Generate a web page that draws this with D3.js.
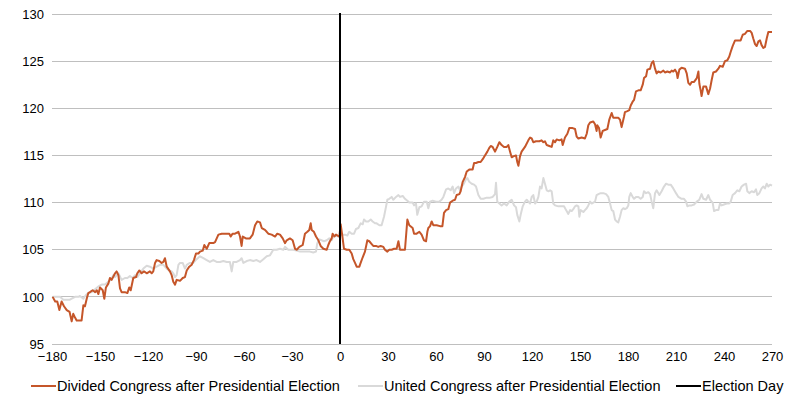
<!DOCTYPE html>
<html>
<head>
<meta charset="utf-8">
<script src="https://cdn.jsdelivr.net/npm/d3@7"></script>
<style>
  html, body { margin: 0; padding: 0; background: #fff; }
  svg { display: block; }
  text { font-family: "Liberation Sans", Arial, sans-serif; font-size: 13px; fill: #000; }
</style>
</head>
<body>
<svg id="chart" width="799" height="394"></svg>
<script>
// ---------- data ----------
const xTicks = [-180, -150, -120, -90, -60, -30, 0, 30, 60, 90, 120, 150, 180, 210, 240, 270];
const yTicks = [95, 100, 105, 110, 115, 120, 125, 130];
const electionDay = 0;

const dividedDays = [
  -179.6,-178,-176.7,-175.4,-174,-172.5,-170.8,-169,-167.7,-166.7,-165.6,-164.6,-161.5,-160.4,-159.4,-158.3,-157.3,-156.3,-154.6,-153,-152,-151,-150,-148.3,-147.3,-146.3,-144.8,-143.8,-142.7,-140.6,-139.6,-138.5,-137.5,-136.5,-134.4,-132.9,-131.7,-130.8,-129.2,-127.5,-126.7,-125.4,-124,-122.5,-120.8,-118.8,-117.7,-116.7,-115.6,-114.6,-112.9,-111.5,-110.4,-109.4,-108.3,-106.3,
  -105.2,-104.2,-103.1,-102.1,-100,-98.3,-96.9,-95.8,-94.2,-92.7,-91.3,-90,-88.5,-87.5,-85.8,-84.8,-83.3,-81.7,-79.2,-78.1,-76,-73.9,-70.8,-69.2,-68.3,-67.1,-65.6,-63.5,-62.5,-61.5,-60.8,-58.8,-56.3,-54.6,-53.1,-51.7,-50,-48.9,-46.9,-45.8,-44.8,-42.7,-40.6,-39.2,-37.5,-35.8,-34.4,-33.3,-31.3,
  -29.6,-28.1,-27.1,-25.4,-23.3,-21.9,-20.4,-19.2,-18.3,-17.7,-16.3,-15,-13.5,-12.1,-10.4,-8.3,-7.3,-6.3,-5.2,-4.6,-3.5,-2.5,-1.5,-0.4,0.4,1.5,2.5,4.2,5.8,7.3,8.3,9.4,10.4,12.1,12.9,14.2,15.6,17.1,18.3,19.8,20.8,22.5,23.9,25.4,27.1,28.1,29.6,30.8,32.3,33.8,35.4,36.5,37.5,39.6,40.6,42.1,43.3,
  45.4,46.3,47.9,49.6,51,52.5,53.8,54.6,55.2,56.3,57.3,58.3,60.4,62.5,64,65,66.3,67.7,68.8,70.4,71.9,72.9,74.6,75.4,76.7,78.1,79.2,80.8,82.9,83.8,85,86.5,87.9,89.2,90.6,92.1,93.3,94.2,95.4,96.9,98.3,99.6,101,102.5,104.2,105.2,106.3,107.3,108.3,110,110.8,111.5,112.5,113.5,115.6,117.7,
  118.8,119.8,120.8,122.5,124.6,126,127.1,128.1,129.2,130.8,132.3,133.3,134.4,135.4,137.1,138.5,139.2,140.6,142.1,143.3,145.4,146.9,147.9,149,151,153.1,154.2,155.2,156.3,158.3,159.4,160.4,160.8,161.9,162.9,164.2,165.6,167.1,168.3,169.8,170.8,172.5,173.9,175,176,177.5,178.1,179.6,180.8,181.7,182.9,183.8,185,186.5,187.9,189.2,190,191.3,192.1,193.8,
  194.8,195.8,196.9,197.9,198.9,200.4,202.1,203.1,204.6,206.3,207.3,208.3,209.4,210.4,211,212.1,213.5,215.6,216.7,217.7,218.8,219.8,221.3,223,224,224.6,225.4,226,227.1,228.8,230.2,231.3,232.3,233.3,235,236.5,237.5,239.2,240.6,242.1,243.3,244.2,245.4,246.9,249,250.4,251.7,253.1,254.6,256.3,257.3,258.3,259.4,260.4,261.5,262.5,263.5,264.6,265.6,266.7,267.7,269.2,270
];
const dividedValues = [
  100,99.5,99.5,98.6,99.5,99,98.6,98.4,97.4,98.2,97.8,97.5,97.5,99.1,99,99.8,100.4,100.5,100.7,100.5,100.7,100.3,101,100.7,99.8,101,101.4,102,101.8,102.5,102.7,102.3,100.9,100.5,100.5,100.4,101,100.7,102,102.1,102.5,102.8,102.5,102.7,102.5,102.7,102.5,102.7,103.6,103.9,103.8,103.6,103.7,104.1,103.2,102.7,
  102.3,101.6,101.3,101.8,101.7,102,102.1,102.8,103.2,103.4,103.9,104.6,104.6,104.8,104.9,105.5,105.1,105.7,105.7,105.8,106.6,106.7,106.7,106.7,106.4,106.7,106.7,106.9,106.4,105.4,106.4,106.2,106.2,106.6,107.6,108,107.9,107.3,107.1,106.9,106.7,106.6,106.4,106.7,106.6,106.2,105.7,106,106.2,
  106,105.1,105,105.3,105.5,106.7,106.9,107.1,107.8,107.1,106.9,106.4,106,105.4,105.1,105,105.5,105.9,106.2,106.7,106.4,106.6,106.5,106.4,107.7,106.4,105.1,105,105,104.6,104,103.6,103.2,103.2,103.6,104.2,104.8,106,105.9,105.6,105.4,105.4,105.3,105.4,105.3,105,104.8,105,105,105.1,105.1,105.9,105,105,105,108.2,107.6,
  107.3,106.7,106.7,106.9,106.6,106,105.9,106.9,107.3,107.5,108,107.6,107.6,107.5,107.5,108.9,109.2,109.3,110,110.2,110.3,110.8,110.9,111.2,112.2,112.7,113.3,113.5,113.5,114.2,114.2,114.3,114.3,114.6,115,115.4,115.8,116,115.9,115.4,115.9,116.4,116.1,115.9,115.9,116.1,115.4,114.8,114.9,115,114.3,113.9,114.9,115.4,115.9,116.6,
  116.9,116.8,116.4,116.5,116.5,116.6,116.4,116.5,116.1,116,115.9,116.6,116.4,116.7,116.6,116.7,116.1,116.9,117.3,117.9,117.9,117.8,117,116.8,116.9,116.8,117.3,118.2,118.5,118.6,118.3,117.6,118.2,117.9,116.9,117.6,117.7,117.8,118.8,119.5,119,119,119,118.8,118,119.1,119.6,119.7,119.8,120.3,120.7,120.9,121.8,121.9,121.9,122.5,123.2,123.4,124.1,124.2,
  124.8,125,124.2,123.7,123.9,123.8,124,123.8,123.9,123.8,124,123.9,124.1,123.8,123.2,124.1,124.3,124.2,123.7,122.7,122.5,122.8,122.8,123.2,123.9,122.6,121.9,121.3,122.3,122.3,121.5,122.1,123,123.8,123.9,124.2,124.5,124.4,125,125.1,125.5,126,126.6,127.2,127.2,127.2,127.8,127.9,128.2,128.2,128,127.4,126.8,126.6,127.1,127.2,126.7,126.4,126.5,127.4,128.1,128.1,128.1
];

const unitedDays = [
  -179.6,-177,-175,-172.9,-170.8,-168.8,-167.7,-165.6,-163.5,-162.5,-160.4,-158.8,-157.3,-155.2,-153.1,-151,-148.9,-146.9,-144.8,-143.3,-141.7,-140.6,-138.5,-136.5,-134.4,-132.9,-131.3,-129.6,-128.1,-126.7,-125,-122.9,-120.8,-118.8,-116.7,-114.6,-112.5,-110.4,-108.3,-106.7,
  -105.2,-104.2,-103.1,-102.1,-101,-100,-98.3,-96.9,-95.8,-93.8,-91.7,-89.6,-87.5,-85.4,-83.3,-81.3,-79.2,-77.1,-75,-72.9,-70.8,-68.8,-67.7,-66.7,-64.6,-62.5,-61.5,-60.4,-58.3,-56.3,-54.2,-52.1,-50,-47.9,-45.8,-43.8,-41.7,-39.6,-37.5,-35.4,-34.4,-32.3,
  -31.3,-29.2,-27.1,-25,-22.9,-20.8,-18.8,-16.7,-15,-14.2,-12.9,-11.5,-10,-8.3,-6.7,-5.2,-4.2,-2.5,-1,0,1.7,3.1,4.6,5.8,7.3,8.8,10,11.5,12.9,14.2,15,16.3,17.7,19.2,20.4,21.9,22.9,24.6,26,27.5,28.8,29.6,30.8,32.3,33.3,35,36.5,37.5,39.2,40.6,42.1,43.3,
  45.4,46.3,47.5,48.3,49.6,51,52.5,54.2,55.2,56.3,57.9,60,62.1,63.5,64.6,66.3,67.7,69.2,70.4,71.3,72.5,74,75,76,77.1,78.8,79.6,80.8,82.3,83.8,85,86.5,87.9,89.6,91.3,93.3,95.4,96.9,97.5,98.3,99.6,101,102.5,104.2,105.8,107.3,108.8,110,110.8,112.1,112.9,114.2,115.6,116.7,117.7,118.8,
  119.8,120.8,121.9,122.9,124,125,126,127.1,128.1,129.2,130.2,131.3,132.3,133.3,134.4,136.5,138.5,140,141.3,142.7,143.8,144.8,145.8,146.9,147.9,149,149.6,150.4,152.1,153.1,154.2,155.2,156.3,157.3,158.3,159.4,160.4,161.5,162.9,164.6,166.3,167.7,168.8,169.8,170.8,171.9,172.9,173.9,175,176,177.1,178.1,179.2,180.2,180.8,181.7,182.9,183.8,185,186.5,187.9,189.2,190,191.3,192.7,193.8,
  194.8,195.8,196.9,197.9,199.6,201,202.5,203.8,205.2,206.7,208.3,210,211.5,213.5,215,216.3,217.1,218.3,219.8,221.3,223,224.6,226,227.1,228.8,230.2,231.3,232.9,233.8,235,236.5,237.5,238.5,240,241.7,243.3,244.2,245.4,246.9,248.3,249.6,251,252.5,253.8,254.6,255.8,257.3,258.8,260,260.8,262.1,263.5,264.6,265.6,266.7,267.7,268.8,270
];
const unitedValues = [
  100,100,100,99.7,99.7,99.7,99.8,100,100,100.1,99.8,100.2,100.4,100.5,100.8,101.1,101.3,101.3,101.6,101.8,102.3,102.1,102.5,101.8,102,102,102.2,102,102.3,102.1,102.5,103,103.3,103.2,103,103.2,103.4,103.4,103,102.8,
  102.7,102.5,102.1,102.3,103.4,103.6,103.6,103,103.4,103.6,103.6,104,104.3,104.1,103.9,103.7,103.9,103.7,103.7,103.8,103.7,103.7,102.7,103.7,103.7,103.9,104.1,103.6,103.8,103.9,103.8,103.9,103.7,104,104.3,104.4,105,105,105.1,105,105.3,105,
  105,105,104.9,104.8,104.8,104.8,104.8,104.7,104.8,105.7,106.1,106,105.9,106,106.2,106,106.4,106.5,106.4,106.5,106.6,106.6,106.5,106.9,106.7,106.7,107.2,107.3,107.8,107.7,108.2,108,108,108.2,108,107.8,107.8,107.6,107.6,108.5,109.6,110.3,110.4,110.6,110.3,110.6,110.8,110.6,110.7,110.4,110.2,110,
  110,109.7,109.9,108.7,109.5,109.6,110.1,110.1,109.4,110.1,110.2,110.1,110.1,110.3,110.6,111.4,111.5,111.3,111.7,111,111.5,111.7,111.3,111.7,111.9,112.5,112.6,112.2,112,111.9,111.7,110.8,110.4,110.4,110.5,110.5,110.6,110.9,112.1,110.1,109.9,109.7,109.9,109.7,110.1,110.3,109.7,109.5,108.7,108,108.7,109.6,110.1,110.3,110.1,109.9,
  110.6,110.8,109.9,110.1,110.6,111.7,111.5,112.6,112,111.3,111.2,111.3,111.2,109.9,109.7,109.6,109.6,109.6,109.2,108.8,109.2,109.1,109.3,109.6,109.7,109.6,108.5,109.2,109,109.2,109.4,109.7,110.1,109.9,110,110.1,110.8,110.9,111,111,110.9,110.6,109.9,109.2,109.1,108.2,108,107.9,108.5,109.2,109.4,109.3,109.4,109.7,110.6,111,110.6,110.4,110.6,110.6,110.4,110.6,111.2,111,111.1,110.9,
  110.1,109.4,111,111.3,110.8,111.2,111.7,112,111.9,111.9,111.5,111,110.6,110.4,110.4,110.1,109.6,109.7,109.7,109.8,110.1,110.3,110.9,110.4,110.3,110.8,110.3,110,109.1,109.2,109.2,109.9,109.7,109.8,109.9,109.9,110.1,110.8,111,111.3,111.2,111.7,111.9,112,111.2,111,111.2,111.1,111.4,110.8,111,111.5,111.7,111.5,112,111.7,111.9,111.8
];

const seriesNames = ["Divided Congress after Presidential Election", "United Congress after Presidential Election", "Election Day"];
const seriesColors = ["#C5562A", "#D9D9D9", "#000000"];

// ---------- chart ----------
const svg = d3.select("#chart");
const margin = { left: 52, right: 27, top: 14, bottom: 50 };
const W = 799, H = 394;
const x = d3.scaleLinear().domain([-180, 270]).range([margin.left, W - margin.right]);
const y = d3.scaleLinear().domain([95, 130]).range([H - margin.bottom, margin.top]);

// gridlines
svg.append("g")
  .selectAll("line")
  .data(yTicks)
  .join("line")
  .attr("x1", x(-180)).attr("x2", x(270))
  .attr("y1", d => y(d)).attr("y2", d => y(d))
  .attr("stroke", "#BFBFBF").attr("stroke-width", 1)
  .attr("shape-rendering", "crispEdges");

// y axis labels
const yAxis = d3.axisLeft(y).tickValues(yTicks).tickSize(0).tickPadding(8).tickFormat(d3.format("d"));
const gy = svg.append("g").attr("transform", `translate(${margin.left},0)`).call(yAxis);
gy.select(".domain").remove();
gy.selectAll("text").style("font-family", "Liberation Sans, Arial, sans-serif").style("font-size", "13px").attr("fill", "#000");

// x axis labels
const xAxis = d3.axisBottom(x).tickValues(xTicks).tickSize(0).tickPadding(8).tickFormat(d3.format("d"));
const gx = svg.append("g").attr("transform", `translate(0,${y(95)})`).call(xAxis);
gx.select(".domain").remove();
gx.selectAll("text").style("font-family", "Liberation Sans, Arial, sans-serif").style("font-size", "13px").attr("fill", "#000");

const line = d3.line().x(d => x(d[0])).y(d => y(d[1]));

const united = unitedDays.map((d, i) => [d, unitedValues[i]]);
const divided = dividedDays.map((d, i) => [d, dividedValues[i]]);

svg.append("path").datum(united)
  .attr("d", line).attr("fill", "none")
  .attr("stroke", seriesColors[1]).attr("stroke-width", 2).attr("stroke-linejoin", "round");

svg.append("path").datum(divided)
  .attr("d", line).attr("fill", "none")
  .attr("stroke", seriesColors[0]).attr("stroke-width", 2).attr("stroke-linejoin", "round");

// election day line
svg.append("line")
  .attr("x1", x(electionDay)).attr("x2", x(electionDay))
  .attr("y1", y(130) - 1).attr("y2", y(95))
  .attr("stroke", seriesColors[2]).attr("stroke-width", 2);

// legend
const legendX = [31, 358, 676];
const legendY = 386;
const lg = svg.append("g");
seriesNames.forEach((name, i) => {
  lg.append("line")
    .attr("x1", legendX[i]).attr("x2", legendX[i] + 25)
    .attr("y1", legendY).attr("y2", legendY)
    .attr("stroke", seriesColors[i]).attr("stroke-width", 2);
  lg.append("text")
    .attr("x", legendX[i] + 26).attr("y", legendY)
    .attr("dy", "0.35em")
    .style("font-size", "14.5px")
    .text(name);
});
</script>
</body>
</html>
